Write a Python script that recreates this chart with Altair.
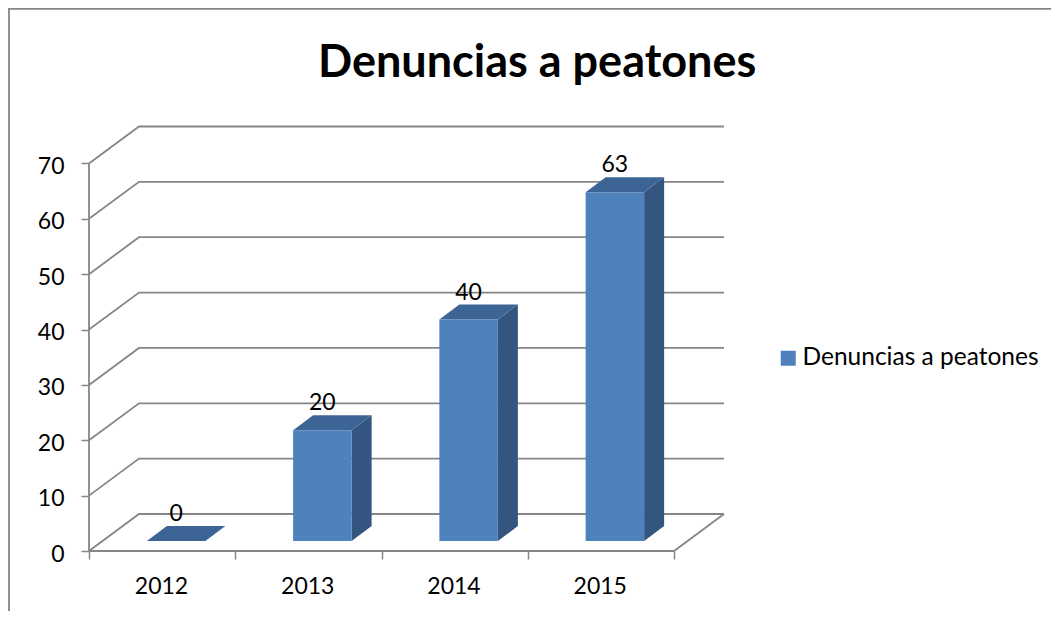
import altair as alt
import pandas as pd

TITLE = "Denuncias a peatones"
years = ["2012", "2013", "2014", "2015"]
values = [0, 20, 40, 63]
y_ticks = [0, 10, 20, 30, 40, 50, 60, 70]

FONT = "Lato"
GRID = "#868686"
FRONT, TOP, SIDE = "#4F81BD", "#3C6494", "#34557F"

# Oblique projection, in scale units
DX, DY = 50 / 146.25, 37 / 5.536        # wall depth
BAR_W = 0.4                             # bar width per category
BAR_DX, BAR_DY = 20 / 146.25, 15 / 5.536  # bar depth
BASE_X, BASE_Y = 14 / 146.25, 10 / 5.536  # bar inset on the floor

n = len(years)
grid_rows = []
for t in y_ticks:
    for i, (gx, gy) in enumerate([(0, t), (DX, t + DY), (n + DX, t + DY)]):
        grid_rows.append(dict(k=f"g{t}", o=i, x=gx, y=gy))
for i, (gx, gy) in enumerate([(0, 0), (n, 0), (n + DX, DY)]):
    grid_rows.append(dict(k="floor", o=i, x=gx, y=gy))
grid = pd.DataFrame(grid_rows)
wall = pd.DataFrame({"x": [0], "y": [y_ticks[0]], "y2": [y_ticks[-1]]})

front, top, side, labels = [], [], [], []
for i, (yr, v) in enumerate(zip(years, values)):
    left = i + (1 - BAR_W) / 2 + BASE_X
    right = left + BAR_W
    front.append(dict(series=TITLE, x=left, x2=right, y=BASE_Y, y2=BASE_Y + v))
    ty = BASE_Y + v
    top += [dict(yr=yr, y=ty, x=left, x2=right),
            dict(yr=yr, y=ty + BAR_DY, x=left + BAR_DX, x2=right + BAR_DX)]
    side += [dict(yr=yr, x=right, y=BASE_Y, y2=ty),
             dict(yr=yr, x=right + BAR_DX, y=BASE_Y + BAR_DY, y2=ty + BAR_DY)]
    labels.append(dict(x=(left + right) / 2, y=ty, t=str(v)))

xs = alt.Scale(domain=[0, n + DX], nice=False, zero=False)
ys = alt.Scale(domain=[0, 424 / 5.536], nice=False, zero=False)

x_axis = alt.Axis(
    values=list(range(n + 1)), title=None, grid=False, domain=False,
    tickColor=GRID, tickWidth=1.5, tickSize=8, labelOffset=72, labelPadding=16,
    labelFont=FONT, labelFontSize=23, labelColor="black", labelOverlap=False,
    labelBound=False, labelFlush=False,
    labelExpr="[" + ",".join(f"'{y}'" for y in years) + ",''][datum.value]",
)
y_axis = alt.Axis(
    values=y_ticks, title=None, grid=False, domain=False,
    tickColor=GRID, tickWidth=1.5, tickSize=8, labelPadding=17, labelOffset=3,
    labelFont=FONT, labelFontSize=23, labelColor="black", labelOverlap=False,
    labelBound=False, labelFlush=False,
)

grid_layer = alt.Chart(grid).mark_line(color=GRID, strokeWidth=1.8, clip=False).encode(
    x=alt.X("x:Q", scale=xs, axis=x_axis),
    y=alt.Y("y:Q", scale=ys, axis=y_axis),
    detail="k:N",
    order="o:Q",
)
wall_layer = alt.Chart(wall).mark_rule(color=GRID, strokeWidth=1.8).encode(
    x=alt.X("x:Q", scale=xs), y=alt.Y("y:Q", scale=ys), y2="y2:Q",
)
side_layer = alt.Chart(pd.DataFrame(side)).mark_area(color=SIDE, orient="vertical").encode(
    x=alt.X("x:Q", scale=xs), y=alt.Y("y:Q", scale=ys), y2="y2:Q", detail="yr:N",
)
top_layer = alt.Chart(pd.DataFrame(top)).mark_area(color=TOP, orient="horizontal").encode(
    y=alt.Y("y:Q", scale=ys), x=alt.X("x:Q", scale=xs), x2="x2:Q", detail="yr:N",
)
front_layer = alt.Chart(pd.DataFrame(front)).mark_rect().encode(
    x=alt.X("x:Q", scale=xs), x2="x2:Q",
    y=alt.Y("y:Q", scale=ys), y2="y2:Q",
    color=alt.Color(
        "series:N", scale=alt.Scale(range=[FRONT]),
        legend=alt.Legend(
            title=None, orient="none", legendX=687, legendY=219,
            symbolType="square", symbolSize=225, symbolStrokeWidth=0,
            labelFont=FONT, labelFontSize=24.5, labelColor="black", labelLimit=400,
            labelOffset=2,
        ),
    ),
)
label_layer = alt.Chart(pd.DataFrame(labels)).mark_text(
    font=FONT, fontSize=23, color="black", dy=-27, baseline="middle"
).encode(x=alt.X("x:Q", scale=xs), y=alt.Y("y:Q", scale=ys), text="t:N")

border_top = alt.Chart(pd.DataFrame({"a": [0]})).mark_rule(color=GRID, strokeWidth=1.8).encode(
    x=alt.value(-81), x2=alt.value(962), y=alt.value(-118.2)
)
border_left = alt.Chart(pd.DataFrame({"a": [0]})).mark_rule(color=GRID, strokeWidth=1.8).encode(
    x=alt.value(-80), y=alt.value(-119), y2=alt.value(484)
)

chart = alt.layer(
    border_top, border_left, grid_layer, wall_layer, side_layer, top_layer, front_layer, label_layer,
).properties(
    width=635, height=424,
    padding={"left": 81, "top": 119, "right": 327, "bottom": 60},
    autosize=alt.AutoSizeParams(type="none"),
    background="white",
    title=alt.TitleParams(
        TITLE, anchor="start", frame="group", dx=229, offset=0, dy=115, baseline="alphabetic",
        font=FONT, fontSize=45, fontWeight="bold", color="black",
    ),
).configure_view(stroke=None)

chart.save("out.html", embed_options={"renderer": "svg", "actions": False})
